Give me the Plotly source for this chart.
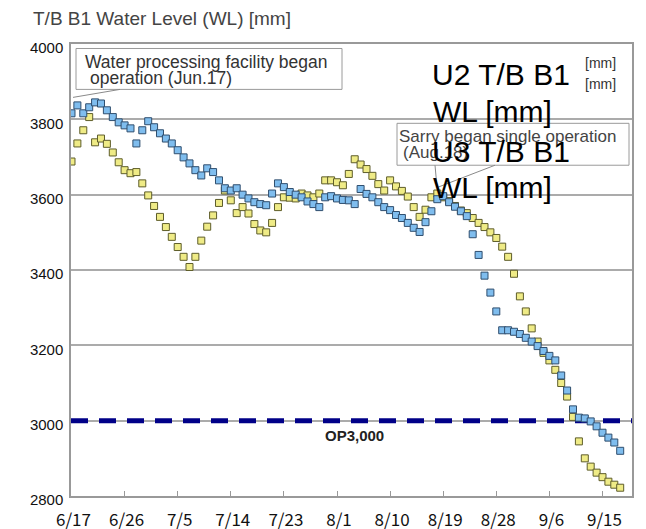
import plotly.graph_objects as go
import pandas as pd

# ---------------- data ----------------
start_date = "2011-06-17"

# U2 T/B B1 water level [mm] (blue), daily from 6/17
u2_wl = [3816, 3837, 3816, 3832, 3845, 3842, 3824, 3806, 3792, 3784,
         3776, 3736, 3771, 3795, 3779, 3763, 3749, 3736, 3718, 3699,
         3683, 3665, 3651, 3670, 3660, 3638, 3617, 3611, 3617, 3600,
         3590, 3580, 3575, 3572, 3603, 3630, 3620, 3607, 3600, 3593,
         3582, 3575, 3567, 3593, 3596, 3590, 3586, 3585, 3575, 3615,
         3602, 3593, 3580, 3567, 3559, 3546, 3538, 3525, 3512, 3501,
         3527, 3556, 3588, 3596, 3580, 3568, 3556, 3543, 3495, 3440,
         3385, 3340, 3290, 3240, 3240, 3236, 3230, 3220, 3210, 3198,
         3185, 3172, 3160, 3120, 3080, 3030, 3008, 3006, 2998, 2985,
         2968, 2955, 2942, 2920]

# U3 T/B B1 water level [mm] (yellow), daily from 6/17
u3_wl = [3688, 3736, 3771, 3806, 3739, 3749, 3735, 3712, 3686, 3665,
         3657, 3660, 3630, 3598, 3570, 3541, 3514, 3488, 3461, 3435,
         3408, 3435, 3478, 3515, 3545, 3578, 3611, 3585, 3551, 3567,
         3550, 3522, 3505, 3500, 3525, 3567, 3593, 3592, 3590, 3603,
         3598, 3593, 3603, 3638, 3638, 3633, 3625, 3655, 3694, 3680,
         3668, 3650, 3628, 3611, 3638, 3622, 3610, 3595, 3567, 3541,
         3560, 3593, 3603, 3593, 3583, 3570, 3558, 3551, 3538, 3525,
         3514, 3500, 3485, 3462, 3435, 3390, 3330, 3290, 3245, 3210,
         3180, 3160, 3135, 3100, 3064, 3010, 2945, 2900, 2878, 2862,
         2850, 2838, 2830, 2822]

tick_dates = ["2011-06-17", "2011-06-26", "2011-07-05", "2011-07-14",
              "2011-07-23", "2011-08-01", "2011-08-10", "2011-08-19",
              "2011-08-28", "2011-09-06", "2011-09-15"]
tick_labels = ["6/17", "6/26", "7/5", "7/14", "7/23", "8/1", "8/10",
               "8/19", "8/28", "9/6", "9/15"]
y_ticks = [2800, 3000, 3200, 3400, 3600, 3800, 4000]
x_range = ["2011-06-16 22:00", "2011-09-20 00:00"]
op_level = 3000

u2_dates = pd.date_range(start_date, periods=len(u2_wl), freq="D")
u3_dates = pd.date_range(start_date, periods=len(u3_wl), freq="D")

# ---------------- layout helpers ----------------
# The page body has an 8px margin, so the figure is sized and placed
# so that the plot lands where it sits in the reference window.
OFF = 8
W, H = 646 - OFF, 529 - OFF
ML, MR, MT, MB = 63, 14, 35.5, 32.5
PW, PH = W - ML - MR, H - MT - MB


def fx(px):
    return (px - OFF - ML) / PW


def fy(py):
    return (H - MB - (py - OFF)) / PH


fig = go.Figure()

# OP3,000 reference line (dashed, navy)
fig.add_trace(go.Scatter(
    x=x_range, y=[op_level, op_level], mode="lines",
    line=dict(color="#000088", width=5, dash="17px,11px"),
    showlegend=False, hoverinfo="skip"))

fig.add_trace(go.Scatter(
    x=u3_dates, y=u3_wl, mode="markers", name="U3 T/B B1 WL [mm]",
    marker=dict(symbol="square", size=7, color="#efeb86",
                line=dict(color="#5e5d2a", width=1)),
    showlegend=False, hoverinfo="x+y"))

fig.add_trace(go.Scatter(
    x=u2_dates, y=u2_wl, mode="markers", name="U2 T/B B1 WL [mm]",
    marker=dict(symbol="square", size=7, color="#7fbdee",
                line=dict(color="#2f4e6e", width=1)),
    showlegend=False, hoverinfo="x+y"))

shapes = []
# annotation boxes and callouts
shapes.append(dict(type="rect", xref="paper", yref="paper",
                   x0=fx(76), x1=fx(342), y0=fy(48), y1=fy(89),
                   line=dict(color="#9a9a9a", width=1), fillcolor="white",
                   layer="above"))
shapes.append(dict(type="line", xref="paper", yref="paper",
                   x0=fx(120), y0=fy(89), x1=fx(73), y1=fy(97),
                   line=dict(color="#8a8a8a", width=1), layer="above"))
shapes.append(dict(type="rect", xref="paper", yref="paper",
                   x0=fx(397), x1=fx(629), y0=fy(123), y1=fy(165),
                   line=dict(color="#9a9a9a", width=1), fillcolor="white",
                   layer="above"))
shapes.append(dict(type="line", xref="paper", yref="paper",
                   x0=fx(435), y0=fy(165), x1=fx(437), y1=fy(187),
                   line=dict(color="#8a8a8a", width=1), layer="above"))
shapes.append(dict(type="line", xref="paper", yref="paper",
                   x0=fx(495), y0=fy(165), x1=fx(438), y1=fy(187),
                   line=dict(color="#8a8a8a", width=1), layer="above"))


def txt(text, px, py, size, color="#000000", bold=False, family="Arial"):
    return dict(text=("<b>%s</b>" % text) if bold else text,
                xref="paper", yref="paper", x=fx(px), y=fy(py),
                xanchor="left", yanchor="middle", showarrow=False,
                font=dict(family=family, size=size, color=color))


annotations = [
    txt("T/B B1 Water Level (WL) [mm]", 31, 18, 19, "#444444"),
    txt("Water processing facility began", 83, 62, 17.5, "#333333"),
    txt("operation (Jun.17)", 88, 78, 17.5, "#333333"),
    txt("Sarry began single operation", 397, 136, 17, "#444444"),
    txt("(Aug.18)", 401, 152, 17, "#444444"),
    txt("[mm]", 583, 63, 14, "#333333"),
    txt("[mm]", 583, 84, 14, "#333333"),
    txt("U2 T/B B1", 430, 74, 30),
    txt("WL [mm]", 431, 111, 30),
    txt("U3 T/B B1", 430, 151, 30),
    txt("WL [mm]", 431, 187, 30),
    txt("OP3,000", 323, 436, 15, "#222222", bold=True),
]

fig.update_layout(
    width=W, height=H,
    margin=dict(l=ML, r=MR, t=MT, b=MB, autoexpand=False),
    paper_bgcolor="white", plot_bgcolor="white",
    showlegend=False,
    shapes=shapes, annotations=annotations,
    xaxis=dict(type="date", range=x_range, automargin=False,
               tickmode="array", tickvals=tick_dates, ticktext=tick_labels,
               ticks="inside", ticklen=5, tickcolor="#999999", tickwidth=1,
               showline=True, linecolor="#999999", linewidth=1.5,
               mirror=True, showgrid=False, zeroline=False,
               ticklabelstandoff=8, ticklabelshift=2,
               tickfont=dict(family="Noto Sans CJK JP", size=17,
                             color="#111111")),
    yaxis=dict(range=[2800, 4000], tickmode="array", tickvals=y_ticks,
               automargin=False,
               ticks="", showline=True, linecolor="#999999", linewidth=1.5,
               mirror=True, showgrid=True, gridcolor="#ababab",
               gridwidth=1.5, zeroline=False, ticklabelshift=4,
               ticklabelstandoff=3,
               tickfont=dict(family="Arial", size=15, color="#111111")),
)

fig.write_html("out.html")
